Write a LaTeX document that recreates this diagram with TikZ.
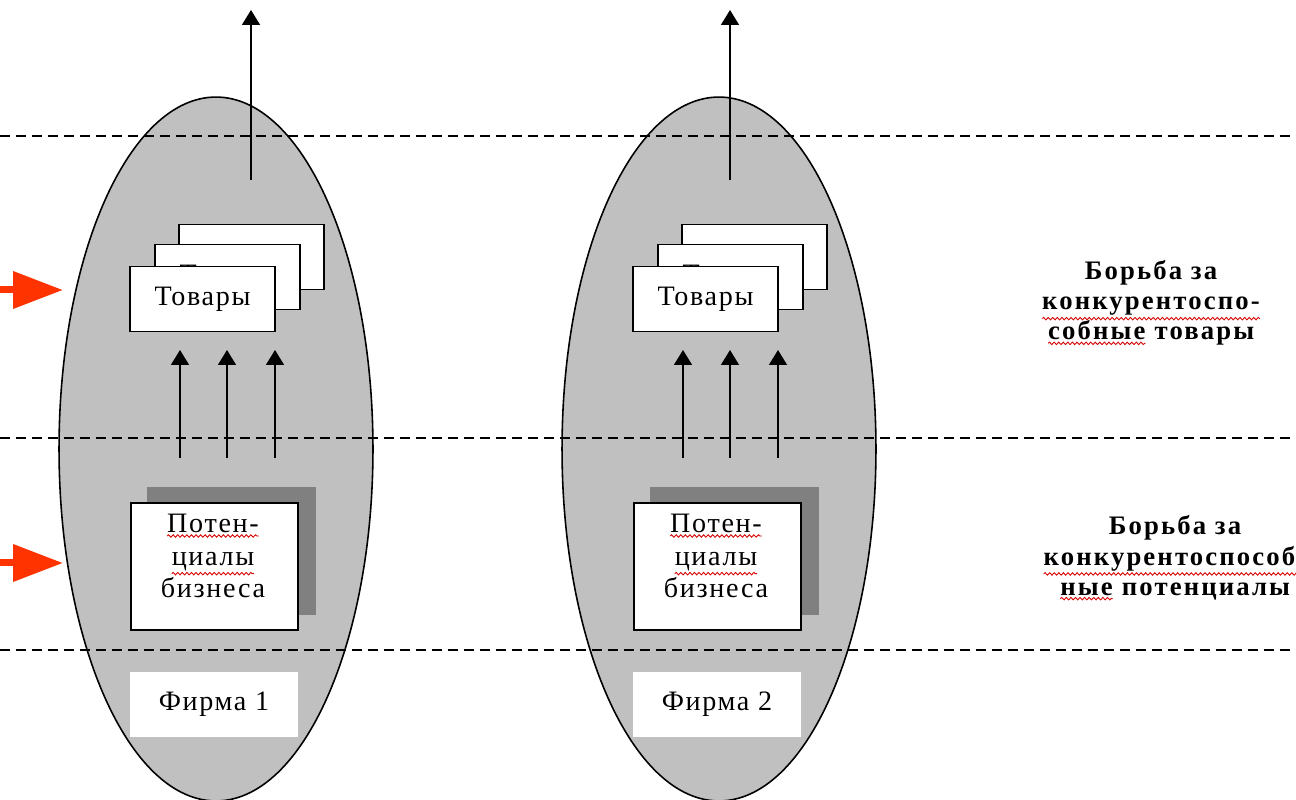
\documentclass[tikz,border=0pt]{standalone}
\usepackage{fontspec}
\setmainfont{Liberation Serif}
\usetikzlibrary{arrows.meta, shapes.geometric, positioning, decorations.pathmorphing}
\definecolor{firmgray}{HTML}{C0C0C0}
\definecolor{shadowgray}{HTML}{808080}
\definecolor{signalred}{HTML}{FF3300}
\newcommand{\boxfont}{\fontsize{16}{18.5}\selectfont\addfontfeature{LetterSpace=6}}
\newcommand{\fightfont}{\bfseries\fontsize{15.2}{17.2}\selectfont\addfontfeature{LetterSpace=8}}
\newcommand{\spellwave}[1]{\tikz[baseline=(sw.base)]{\node[inner sep=0pt, outer sep=0pt] (sw) {#1};
    \draw[red!85!black, line width=0.5pt, decorate, decoration={snake, amplitude=0.7pt, segment length=2.6pt}]
        ([yshift=-1.8pt]sw.south west) -- ([yshift=-1.8pt]sw.south east);}}

\begin{document}
\begin{tikzpicture}[x=0.02cm, y=-0.02cm,
    firm/.style={ellipse, draw=black, line width=0.9pt, fill=firmgray, inner sep=0pt, minimum width=6.28cm, minimum height=14.08cm},
    levelline/.style={line width=1.1pt, dash pattern=on 0.2cm off 0.12cm},
    goodsbox/.style={draw, fill=white, line width=0.9pt, minimum width=2.9cm, minimum height=1.3cm, inner sep=0pt, font=\boxfont},
    potshadow/.style={fill=shadowgray, minimum width=3.38cm, minimum height=2.56cm, inner sep=0pt},
    potbox/.style={draw, fill=white, line width=0.9pt, minimum width=3.34cm, minimum height=2.54cm, inner sep=0pt},
    pottext/.style={align=center, font=\boxfont},
    namebox/.style={fill=white, minimum width=3.36cm, minimum height=1.3cm, inner sep=0pt, font=\boxfont},
    uparrow/.style={-{Triangle[width=3.6mm, length=3mm]}, line width=0.9pt},
    entryarrow/.style={-{Triangle[width=7.2mm, length=10mm]}, signalred, line width=0.14cm},
    fightlabel/.style={align=center, font=\fightfont}]
    \useasboundingbox (0,0) rectangle (1296,800);
    % Firms
    \node[firm] (firm1) at (216,449) {};
    \node[firm] (firm2) at (719,449) {};
    % Levels
    \foreach \y in {136, 438, 650} {
        \draw[levelline] (0,\y) -- (1296,\y);
    }
    % Entry arrows
    \coordinate (entry1s) at (0,290);
    \coordinate (entry1e) at (63,290);
    \coordinate (entry2s) at (0,563);
    \coordinate (entry2e) at (63,563);
    \draw[entryarrow] (entry1s) -- (entry1e);
    \draw[entryarrow] (entry2s) -- (entry2e);
    % Inside each firm
    \foreach \i/\dx/\ax in {1/0/251, 2/503/730} {
        \coordinate (out\i s) at (\ax,180);
        \coordinate (out\i e) at (\ax,10);
        \draw[uparrow] (out\i s) -- (out\i e);
        \node[goodsbox] (goods\i c) at (251.5+\dx,257) {Товары};
        \node[goodsbox] (goods\i b) at (227.5+\dx,277) {Товары};
        \node[goodsbox] (goods\i a) at (202.5+\dx,299) {Товары};
        \foreach \x [count=\k] in {180, 227, 275} {
            \coordinate (up\i\k s) at (\x+\dx,458);
            \coordinate (up\i\k e) at (\x+\dx,350);
            \draw[uparrow] (up\i\k s) -- (up\i\k e);
        }
        \node[potshadow] (shadow\i) at (231.5+\dx,551) {};
        \node[potbox] (pot\i) at (214.5+\dx,566.5) {};
        \node[pottext] (pottext\i) at (213+\dx,556) {\spellwave{Потен-}\\\spellwave{циалы}\\бизнеса};
        \node[namebox] (name\i) at (214+\dx,704.5) {Фирма \i};
    }
    % Levels of competition
    \node[fightlabel] (fight1) at (1151,303) {Борьба за\\\spellwave{конкурентоспо-}\\\spellwave{собные} товары};
    \node[fightlabel] (fight2) at (1175,558) {Борьба за\\\spellwave{конкурентоспособ-}\\\spellwave{ные} потенциалы};
\end{tikzpicture}
\end{document}
